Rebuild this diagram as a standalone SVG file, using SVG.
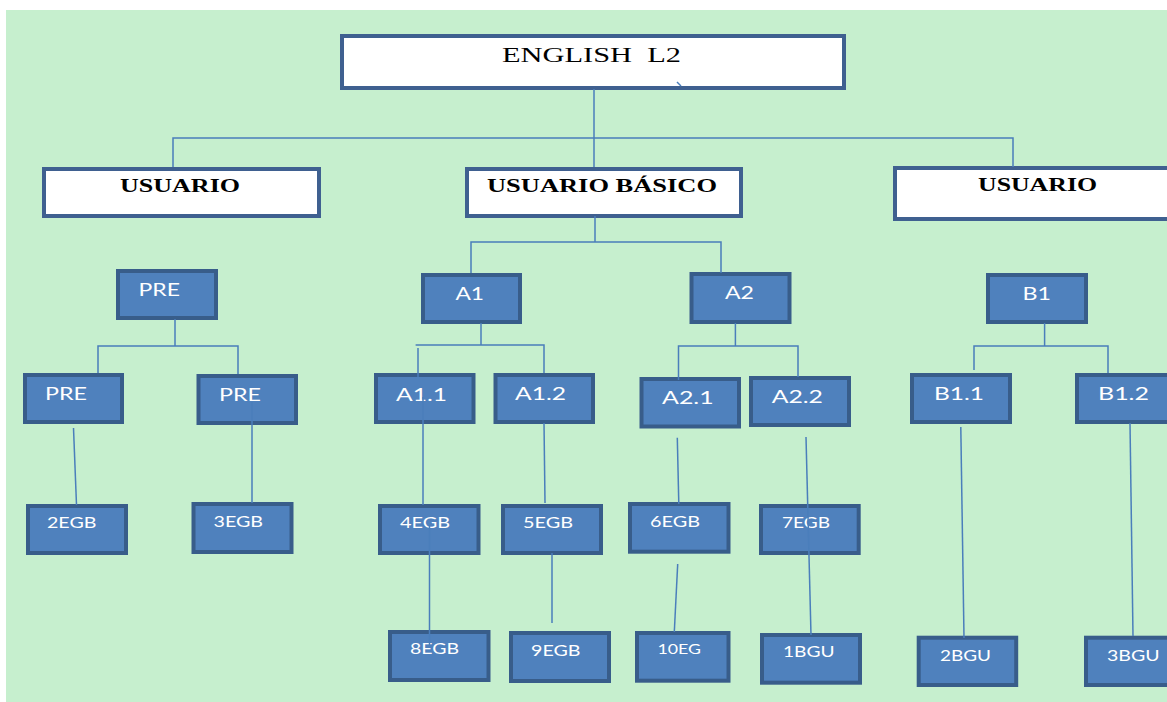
<svg xmlns="http://www.w3.org/2000/svg" width="1167" height="702" viewBox="0 0 1167 702">
<style>
.bg{fill:#C6EFCE}
.wbox{fill:#FFFFFF;stroke:#3F6090;stroke-width:4}
.bbox{fill:#4F81BD;stroke:#385D8A;stroke-width:4}
.wt{font-family:"Liberation Serif","Times New Roman",serif;fill:#000;white-space:pre}
.wtb{font-weight:bold;font-size:18px}
.bt{font-family:Lato,"Open Sans","Noto Sans",sans-serif;fill:#FFFFFF}
.b18{font-size:18px}
.b16{font-size:16px}
.b14{font-size:14px}
.con{fill:none;stroke:#4A7EBB;stroke-width:1.5}
</style>
<rect x="0" y="0" width="1167" height="702" fill="#FFFFFF"/>
<rect class="bg" x="6" y="10" width="1161" height="692"/>

<g id="english">
<rect class="wbox" x="342" y="36" width="502" height="52"/>
<text class="wt" x="502" y="62" font-size="20" textLength="179" lengthAdjust="spacingAndGlyphs">ENGLISH  L2</text>
</g>
<g id="usuario1">
<rect class="wbox" x="44" y="169" width="275" height="47"/>
<text class="wt wtb" x="120" y="192" textLength="120" lengthAdjust="spacingAndGlyphs">USUARIO</text>
</g>
<g id="usuario-basico">
<rect class="wbox" x="467" y="169" width="274" height="47"/>
<text class="wt wtb" x="487" y="192" textLength="230" lengthAdjust="spacingAndGlyphs">USUARIO BÁSICO</text>
</g>
<g id="usuario3">
<rect class="wbox" x="895" y="168" width="290" height="51"/>
<text class="wt wtb" x="978" y="191" textLength="119" lengthAdjust="spacingAndGlyphs">USUARIO</text>
</g>

<g id="pre"><rect class="bbox" x="118" y="271" width="98" height="47"/><text class="bt b18" x="138.5" y="296" textLength="41.5" lengthAdjust="spacingAndGlyphs">PRE</text></g>
<g id="a1"><rect class="bbox" x="423" y="275" width="97" height="47"/><text class="bt b18" x="455.4" y="300" textLength="28.7" lengthAdjust="spacingAndGlyphs">A1</text></g>
<g id="a2"><rect class="bbox" x="691.5" y="274" width="98" height="48"/><text class="bt b18" x="725" y="299" textLength="29" lengthAdjust="spacingAndGlyphs">A2</text></g>
<g id="b1"><rect class="bbox" x="988" y="275" width="98" height="47"/><text class="bt b18" x="1022.5" y="300" textLength="28.5" lengthAdjust="spacingAndGlyphs">B1</text></g>

<g id="pre-l"><rect class="bbox" x="25" y="375" width="97" height="47"/><text class="bt b18" x="45" y="400" textLength="42" lengthAdjust="spacingAndGlyphs">PRE</text></g>
<g id="pre-r"><rect class="bbox" x="198.5" y="376" width="97.5" height="47"/><text class="bt b18" x="219" y="401" textLength="42" lengthAdjust="spacingAndGlyphs">PRE</text></g>
<g id="a11"><rect class="bbox" x="376" y="375" width="97.5" height="47"/><text class="bt b18" x="396" y="400.7" textLength="51" lengthAdjust="spacingAndGlyphs">A1.1</text></g>
<g id="a12"><rect class="bbox" x="495.5" y="375" width="97.5" height="47"/><text class="bt b18" x="515" y="400" textLength="51" lengthAdjust="spacingAndGlyphs">A1.2</text></g>
<g id="a21"><rect class="bbox" x="641.5" y="379" width="97.5" height="47.5"/><text class="bt b18" x="662" y="404" textLength="51.7" lengthAdjust="spacingAndGlyphs">A2.1</text></g>
<g id="a22"><rect class="bbox" x="751" y="378" width="98" height="47"/><text class="bt b18" x="771.7" y="402.7" textLength="51.3" lengthAdjust="spacingAndGlyphs">A2.2</text></g>
<g id="b11"><rect class="bbox" x="912" y="375" width="98" height="47"/><text class="bt b18" x="934" y="400" textLength="50" lengthAdjust="spacingAndGlyphs">B1.1</text></g>
<g id="b12"><rect class="bbox" x="1077" y="375" width="100" height="47"/><text class="bt b18" x="1098" y="400" textLength="51" lengthAdjust="spacingAndGlyphs">B1.2</text></g>

<g id="egb2"><rect class="bbox" x="28" y="506" width="98" height="47"/><text class="bt b16" x="47" y="528" textLength="49.4" lengthAdjust="spacingAndGlyphs">2EGB</text></g>
<g id="egb3"><rect class="bbox" x="193.5" y="504" width="98" height="48"/><text class="bt b16" x="213.5" y="527" textLength="49.5" lengthAdjust="spacingAndGlyphs">3EGB</text></g>
<g id="egb4"><rect class="bbox" x="380" y="506" width="98.5" height="47"/><text class="bt b16" x="400" y="528" textLength="50" lengthAdjust="spacingAndGlyphs">4EGB</text></g>
<g id="egb5"><rect class="bbox" x="503" y="506" width="98" height="47"/><text class="bt b16" x="523" y="528" textLength="50" lengthAdjust="spacingAndGlyphs">5EGB</text></g>
<g id="egb6"><rect class="bbox" x="630" y="504" width="98.5" height="47.7"/><text class="bt b16" x="650" y="526.7" textLength="50" lengthAdjust="spacingAndGlyphs">6EGB</text></g>
<g id="egb7"><rect class="bbox" x="761" y="506" width="97.7" height="47"/><text class="bt b16" x="782" y="528" textLength="48" lengthAdjust="spacingAndGlyphs">7EGB</text></g>
<g id="egb8"><rect class="bbox" x="390" y="632" width="98.5" height="48"/><text class="bt b16" x="410" y="654" textLength="49" lengthAdjust="spacingAndGlyphs">8EGB</text></g>
<g id="egb9"><rect class="bbox" x="511" y="633" width="98" height="48"/><text class="bt b16" x="531" y="655.7" textLength="49.5" lengthAdjust="spacingAndGlyphs">9EGB</text></g>
<g id="eg10"><rect class="bbox" x="637" y="633" width="91.5" height="47.7"/><text class="bt b14" x="657.5" y="654" textLength="43.5" lengthAdjust="spacingAndGlyphs">10EG</text></g>
<g id="bgu1"><rect class="bbox" x="762" y="635" width="98" height="47.7"/><text class="bt b16" x="783" y="657" textLength="51.6" lengthAdjust="spacingAndGlyphs">1BGU</text></g>
<g id="bgu2"><rect class="bbox" x="918.7" y="637.7" width="97.5" height="47.3"/><text class="bt b16" x="940" y="660.7" textLength="51" lengthAdjust="spacingAndGlyphs">2BGU</text></g>
<g id="bgu3"><rect class="bbox" x="1086" y="637.7" width="100" height="47.3"/><text class="bt b16" x="1107" y="660.7" textLength="52.6" lengthAdjust="spacingAndGlyphs">3BGU</text></g>

<g id="connectors" class="con">
<path d="M594,89 V167"/>
<path d="M173,167 V138 H1013 V167"/>
<path d="M677,82 L681,86"/>
<path d="M595,216 V242"/>
<path d="M471,273 V242 H721 V273"/>
<path d="M175,319 V346"/>
<path d="M98,373 V346 H238 V374"/>
<path d="M73.5,428 L76.5,505"/>
<path d="M252,402 V503"/>
<path d="M481,323 V345"/>
<path d="M415.6,345 H544 V373"/>
<path d="M418,348 V377"/>
<path d="M423,397 V505"/>
<path d="M429.5,525 V645"/>
<path d="M544,423 L545,503"/>
<path d="M552,553 V623"/>
<path d="M735.4,323 V346"/>
<path d="M678.5,380 V346 H798 V377"/>
<path d="M677.3,437.7 L678.8,504"/>
<path d="M677.7,564 L674.3,632"/>
<path d="M806,437 L811,635"/>
<path d="M1044.6,323 V346"/>
<path d="M974,370 V346 H1108 V373"/>
<path d="M960.8,427 L964,638"/>
<path d="M1130,423 L1133,636"/>
</g>
</svg>
